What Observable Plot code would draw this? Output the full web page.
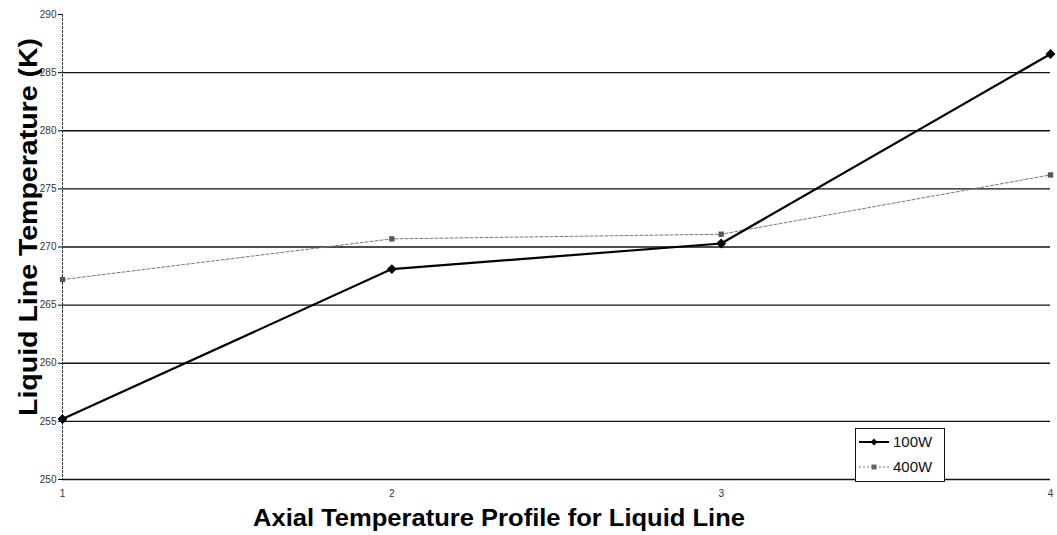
<!DOCTYPE html>
<html><head><meta charset="utf-8">
<script src="https://cdn.jsdelivr.net/npm/d3@7"></script>
<script src="https://cdn.jsdelivr.net/npm/@observablehq/plot@0.6"></script>
<style>
body{margin:0;background:#fff;font-family:"Liberation Sans",Arial,sans-serif;}
#wrap{position:relative;width:1057px;height:535px;}
#legend{position:absolute;left:855px;top:428px;width:88px;height:52px;border:1px solid #111;background:#fff;font-size:15px;color:#111;}
#legend div{display:flex;align-items:center;height:25px;}
#legend svg{margin-left:3px;margin-right:4px;}
</style></head>
<body><div id="wrap"><div id="chart"></div>
<div id="legend">
<div><svg width="30" height="10"><line x1="0" y1="5" x2="30" y2="5" stroke="#000" stroke-width="2"/><path d="M15 1.5 L18.5 5 L15 8.5 L11.5 5 Z" fill="#000"/></svg>100W</div>
<div><svg width="30" height="10"><line x1="0" y1="5" x2="30" y2="5" stroke="#777" stroke-width="1" stroke-dasharray="2,2"/><rect x="12.5" y="2.5" width="5" height="5" fill="#666"/></svg>400W</div>
</div></div>
<script>
const positions = [1, 2, 3, 4];
const w100 = [255.2, 268.1, 270.3, 286.6];
const w400 = [267.2, 270.7, 271.1, 276.2];
const yTicks = [250, 255, 260, 265, 270, 275, 280, 285, 290];
const xTicks = [1, 2, 3, 4];

const d100 = positions.map((p, i) => ({x: p, y: w100[i]}));
const d400 = positions.map((p, i) => ({x: p, y: w400[i]}));

const chart = Plot.plot({
  width: 1057, height: 535,
  marginLeft: 62, marginRight: 7, marginTop: 14, marginBottom: 56,
  style: {fontFamily: "Liberation Sans, Arial, sans-serif", background: "#fff"},
  x: {domain: [1, 4], ticks: xTicks},
  y: {domain: [250, 290], ticks: yTicks},
  marks: [
    Plot.ruleY(yTicks.filter(t => t < 290), {stroke: "#111", strokeWidth: 1.3}),
    Plot.ruleX([1], {stroke: "#333", strokeWidth: 1, strokeDasharray: "3,1"}),
    Plot.axisY({ticks: yTicks, tickSize: 4, tickPadding: 2, fontSize: 10, fill: "#333",
      label: "Liquid Line Temperature (K)", labelAnchor: "center", labelArrow: "none", labelOffset: 32}),
    Plot.axisX({ticks: xTicks, tickFormat: d3.format("d"), tickSize: 0, tickPadding: 10, fontSize: 10, fill: "#333",
      label: "Axial Temperature Profile for Liquid Line", labelAnchor: "center", labelArrow: "none", labelOffset: 42}),
    Plot.line(d400, {x: "x", y: "y", stroke: "#777", strokeWidth: 1, strokeDasharray: "3,2"}),
    Plot.dot(d400, {x: "x", y: "y", symbol: "square", r: 3, fill: "#555"}),
    Plot.line(d100, {x: "x", y: "y", stroke: "#000", strokeWidth: 2.2}),
    Plot.dot(d100, {x: "x", y: "y", symbol: "diamond2", r: 3.5, fill: "#000", stroke: "#000"})
  ]
});
document.getElementById("chart").appendChild(chart);
const yl = d3.select(chart).select("g[aria-label='y-axis label'] text");
yl.attr("transform", "translate(37,227) rotate(-90)").attr("x", null).attr("y", null).attr("dy", null)
  .attr("text-anchor", "middle").attr("textLength", 378).attr("lengthAdjust", "spacingAndGlyphs")
  .style("font-size", "25px").style("font-weight", "bold").style("fill", "#000");
d3.select(chart).select("g[aria-label='y-axis label']").attr("transform", null);
const xl = d3.select(chart).select("g[aria-label='x-axis label'] text");
xl.attr("transform", "translate(499,526)").attr("x", null).attr("y", null).attr("dy", null)
  .attr("text-anchor", "middle").attr("textLength", 492).attr("lengthAdjust", "spacingAndGlyphs")
  .style("font-size", "24px").style("font-weight", "bold").style("fill", "#000");
d3.select(chart).select("g[aria-label='x-axis label']").attr("transform", null);
</script></body></html>
